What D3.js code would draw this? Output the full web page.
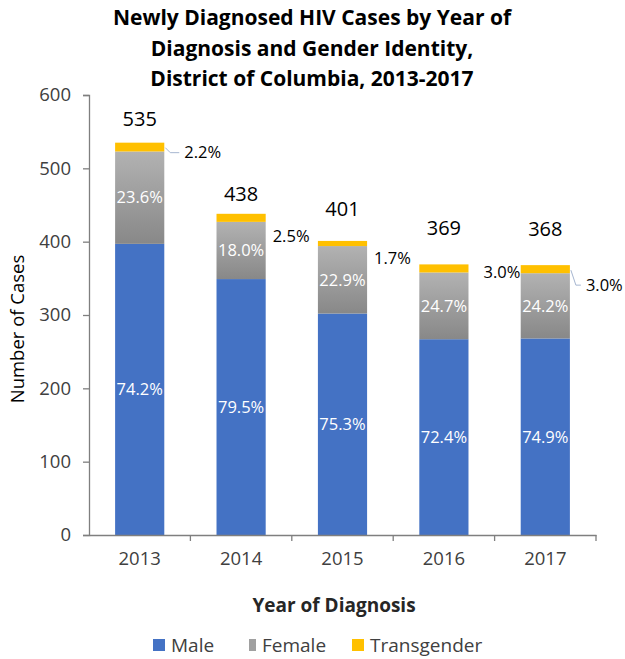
<!DOCTYPE html>
<html lang="en">
<head>
<meta charset="UTF-8">
<title>Newly Diagnosed HIV Cases</title>
<script src="https://cdnjs.cloudflare.com/ajax/libs/d3/7.8.5/d3.min.js"></script>
<style>
  body { margin: 0; background: #fff; }
  text { font-family: "Open Sans", Lato, sans-serif; }
</style>
</head>
<body>
<script>
    // data
    var years = ["2013", "2014", "2015", "2016", "2017"];
    var male = [397, 349, 302, 267, 268];
    var female = [126, 78, 92, 91, 89];
    var trans = [12, 11, 7, 11, 11];
    var malePct = ["74.2%", "79.5%", "75.3%", "72.4%", "74.9%"];
    var femalePct = ["23.6%", "18.0%", "22.9%", "24.7%", "24.2%"];
    var transPct = ["2.2%", "2.5%", "1.7%", "3.0%", "3.0%"];
    var yTicks = [0, 100, 200, 300, 400, 500, 600];
    var seriesNames = ["Male", "Female", "Transgender"];

    // hand placed label nudges (px), like the excel original
    var totalDy = [-24, -20, -32, -36, -36];
    var transDx = [20, 7, 7, 15, 16];
    var transDy = [10, 22, 17, 8, 20];
    var leader = [true, false, false, false, true];

    var width = 625, height = 659;
    var colors = { male: "#4472c4", trans: "#ffc000", axis: "#7f7f7f", text: "#262626" };

    var svg = d3.select("body").append("svg")
        .attr("width", width)
        .attr("height", height);

    var grad = svg.append("defs").append("linearGradient")
        .attr("id", "femaleGrad")
        .attr("x1", 0).attr("y1", 0).attr("x2", 0).attr("y2", 1);
    grad.append("stop").attr("offset", "0%").attr("stop-color", "#b2b2b2");
    grad.append("stop").attr("offset", "100%").attr("stop-color", "#888888");

    var x = d3.scaleBand().domain(years).range([89, 596]).paddingInner(0.515).paddingOuter(0.2575);
    var y = d3.scaleLinear().domain([0, 600]).range([535, 95]);

    var rows = years.map(function (yr, i) {
        return { year: yr, i: i, male: male[i], female: female[i], trans: trans[i],
                 total: male[i] + female[i] + trans[i] };
    });

    // title
    var title = ["Newly Diagnosed HIV Cases by Year of", "Diagnosis and Gender Identity,", "District of Columbia, 2013-2017"];
    svg.append("g").selectAll("text").data(title).enter().append("text")
        .attr("x", 312)
        .attr("y", function (d, i) { return 25 + i * 30.5; })
        .attr("text-anchor", "middle")
        .style("font-size", "21px")
        .style("font-weight", "bold")
        .attr("fill", "#000")
        .text(function (d) { return d; });

    // bars
    var bars = svg.append("g");
    bars.selectAll("rect.male").data(rows).enter().append("rect")
        .attr("class", "male")
        .attr("x", function (d) { return x(d.year); })
        .attr("width", x.bandwidth())
        .attr("y", function (d) { return y(d.male); })
        .attr("height", function (d) { return y(0) - y(d.male); })
        .attr("fill", colors.male);
    bars.selectAll("rect.female").data(rows).enter().append("rect")
        .attr("class", "female")
        .attr("x", function (d) { return x(d.year); })
        .attr("width", x.bandwidth())
        .attr("y", function (d) { return y(d.male + d.female); })
        .attr("height", function (d) { return y(d.male) - y(d.male + d.female); })
        .attr("fill", "url(#femaleGrad)");
    bars.selectAll("rect.trans").data(rows).enter().append("rect")
        .attr("class", "trans")
        .attr("x", function (d) { return x(d.year); })
        .attr("width", x.bandwidth())
        .attr("y", function (d) { return y(d.total); })
        .attr("height", function (d) { return y(d.male + d.female) - y(d.total); })
        .attr("fill", colors.trans);

    // axes
    var yAxis = svg.append("g")
        .attr("transform", "translate(89,0)")
        .call(d3.axisLeft(y).tickValues(yTicks).tickSize(6).tickPadding(12));
    var xAxis = svg.append("g")
        .attr("transform", "translate(0,535)")
        .call(d3.axisBottom(x).tickSize(0).tickPadding(17));
    [yAxis, xAxis].forEach(function (g) {
        g.select(".domain").attr("stroke", colors.axis).attr("stroke-width", 1.3);
        g.selectAll(".tick line").attr("stroke", colors.axis).attr("stroke-width", 1.3);
        g.selectAll(".tick text").attr("fill", "#404040").style("font-size", "18.5px")
            .style("font-family", "'Open Sans', sans-serif");
    });
    // x ticks sit on the band boundaries
    var bounds = years.map(function (yr) { return x(yr) + x.bandwidth() + x.step() * x.paddingInner() / 2; });
    xAxis.selectAll("line.sep").data(bounds).enter().append("line")
        .attr("class", "sep")
        .attr("x1", function (d) { return d; }).attr("x2", function (d) { return d; })
        .attr("y1", 0).attr("y2", 6)
        .attr("stroke", colors.axis).attr("stroke-width", 1.3);

    // axis titles
    svg.append("text")
        .attr("transform", "translate(18,329) rotate(-90)")
        .attr("dy", "0.35em")
        .attr("text-anchor", "middle")
        .style("font-size", "18.5px")
        .attr("fill", "#000")
        .text("Number of Cases");
    svg.append("text")
        .attr("x", 334).attr("y", 605)
        .attr("dy", "0.35em")
        .attr("text-anchor", "middle")
        .style("font-size", "19px").style("font-weight", "bold")
        .attr("fill", "#262626")
        .text("Year of Diagnosis");

    // labels inside bars
    var labels = svg.append("g");
    labels.selectAll("text.mp").data(rows).enter().append("text")
        .attr("x", function (d) { return x(d.year) + x.bandwidth() / 2; })
        .attr("y", function (d) { return (y(0) + y(d.male)) / 2; })
        .attr("dy", "0.35em")
        .attr("text-anchor", "middle")
        .style("font-size", "16.5px")
        .attr("fill", "#fff")
        .text(function (d) { return malePct[d.i]; });
    labels.selectAll("text.fp").data(rows).enter().append("text")
        .attr("x", function (d) { return x(d.year) + x.bandwidth() / 2; })
        .attr("y", function (d) { return (y(d.male) + y(d.male + d.female)) / 2; })
        .attr("dy", "0.35em")
        .attr("text-anchor", "middle")
        .style("font-size", "16.5px")
        .attr("fill", "#fff")
        .text(function (d) { return femalePct[d.i]; });

    // totals
    labels.selectAll("text.tot").data(rows).enter().append("text")
        .attr("x", function (d) { return x(d.year) + x.bandwidth() / 2; })
        .attr("y", function (d) { return y(d.total) + totalDy[d.i]; })
        .attr("dy", "0.35em")
        .attr("text-anchor", "middle")
        .style("font-size", "20px")
        .attr("fill", "#000")
        .text(function (d) { return d.total; });

    // transgender labels beside the bars
    labels.selectAll("text.tp").data(rows).enter().append("text")
        .attr("x", function (d) { return x(d.year) + x.bandwidth() + transDx[d.i]; })
        .attr("y", function (d) { return y(d.total) + transDy[d.i]; })
        .attr("dy", "0.35em")
        .style("font-size", "16.5px")
        .attr("fill", "#000")
        .text(function (d) { return transPct[d.i]; });
    labels.selectAll("path.lead").data(rows.filter(function (d) { return leader[d.i]; })).enter().append("path")
        .attr("d", function (d) {
            var x0 = x(d.year) + x.bandwidth() + 1, y0 = y(d.total) + 5;
            var x2 = x(d.year) + x.bandwidth() + transDx[d.i] - 5, y2 = y(d.total) + transDy[d.i];
            return "M" + x0 + "," + y0 + "L" + (x0 + 5) + "," + y2 + "L" + x2 + "," + y2;
        })
        .attr("fill", "none").attr("stroke", "#a6b6d0").attr("stroke-width", 1);

    // legend
    var legendItems = [
        { name: seriesNames[0], fill: colors.male, x: 153, w: 12 },
        { name: seriesNames[1], fill: "#a0a0a0", x: 249, w: 7 },
        { name: seriesNames[2], fill: colors.trans, x: 352, w: 12 }
    ];
    var lg = svg.append("g").selectAll("g").data(legendItems).enter().append("g")
        .attr("transform", function (d) { return "translate(" + d.x + ",645)"; });
    lg.append("rect").attr("x", 0).attr("y", -6).attr("width", function (d) { return d.w; }).attr("height", 12)
        .attr("fill", function (d) { return d.fill; });
    lg.append("text").attr("x", function (d) { return d.w + 6; }).attr("dy", "0.35em")
        .style("font-size", "19px").attr("fill", "#404040")
        .text(function (d) { return d.name; });
</script>
</body>
</html>
